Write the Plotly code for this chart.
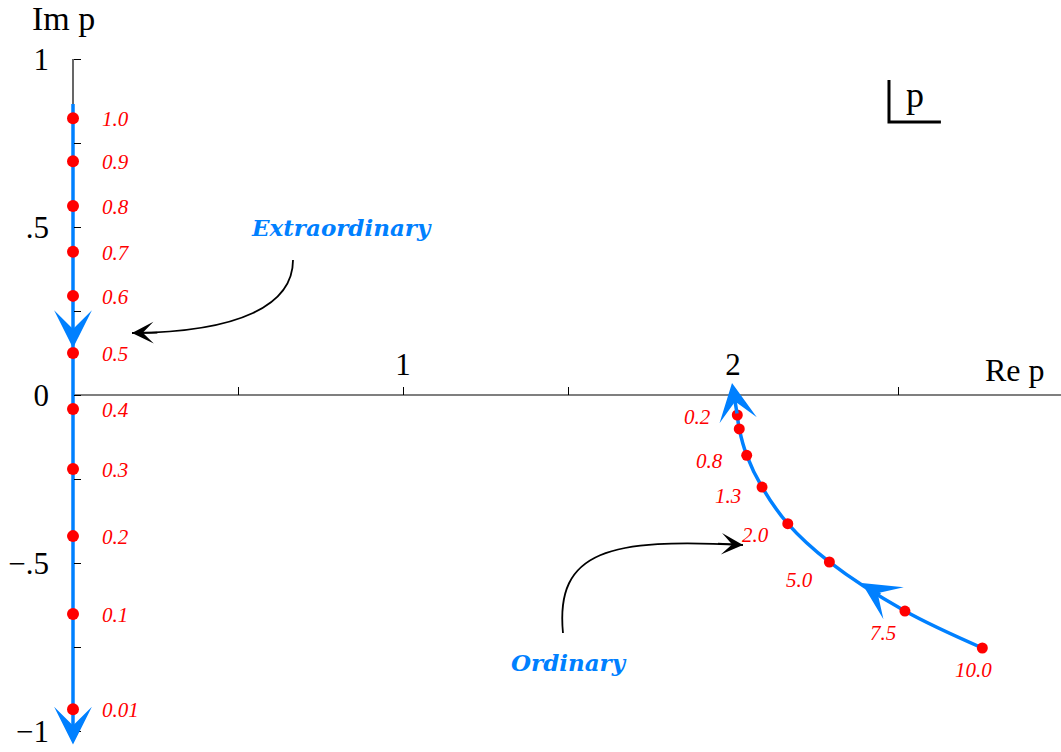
import plotly.graph_objects as go

# ---------------- data ----------------
# Extraordinary branch (on the imaginary axis)
ext_labels = ["1.0", "0.9", "0.8", "0.7", "0.6", "0.5", "0.4", "0.3", "0.2", "0.1", "0.01"]
ext_re = [0.0] * 11
ext_im = [0.824, 0.696, 0.5625, 0.426, 0.295, 0.125, -0.042, -0.220, -0.420, -0.652, -0.935]
ext_line_re = [0.0, 0.0]
ext_line_im = [0.866, -1.0]

# Ordinary branch
ord_labels = ["0.2", "", "0.8", "1.3", "2.0", "5.0", "7.5", "10.0"]
ord_re = [2.013, 2.019, 2.0415, 2.088, 2.166, 2.292, 2.521, 2.7555]
ord_im = [-0.0595, -0.101, -0.1795, -0.274, -0.383, -0.497, -0.643, -0.753]

# axis ticks
x_tickvals = [0.5, 1.0, 1.5, 2.0, 2.5]
x_ticktext = ["", "1", "", "2", ""]
y_tickvals = [-1.0, -0.75, -0.5, -0.25, 0.0, 0.25, 0.5, 0.75, 1.0]
y_ticktext = ["\u22121", "", "\u2212.5", "", "0", "", ".5", "", "1"]

# ---------------- style ----------------
BLUE = "rgb(0,128,255)"
RED = "rgb(255,0,0)"
SERIF = "Liberation Serif"
W, H = 1061, 752
X_RANGE = [-73 / 330, (W - 73) / 330]
Y_RANGE = [-(H - 395) / 336, 395 / 336]

fig = go.Figure()

# extraordinary line + dots
fig.add_trace(go.Scatter(x=ext_line_re, y=ext_line_im, mode="lines",
                         line=dict(color=BLUE, width=3.5), hoverinfo="skip"))
fig.add_trace(go.Scatter(x=ext_re, y=ext_im, mode="markers",
                         marker=dict(color=RED, size=12), hoverinfo="skip"))

# ordinary curve + dots
fig.add_trace(go.Scatter(x=ord_re[::-1], y=ord_im[::-1], mode="lines",
                         line=dict(color=BLUE, width=3.5, shape="spline", smoothing=1.0),
                         hoverinfo="skip"))
fig.add_trace(go.Scatter(x=ord_re, y=ord_im, mode="markers",
                         marker=dict(color=RED, size=11), hoverinfo="skip"))

annotations = []
label_font = dict(family=SERIF, size=21, color=RED, style="italic")
for lab, xr, yi in zip(ext_labels, ext_re, ext_im):
    annotations.append(dict(x=xr, y=yi, text=lab, showarrow=False, xanchor="left",
                            yanchor="middle", xshift=27, yshift=-1, font=label_font))

ord_offsets = [(-24, -2), (0, 0), (-22, -6), (-19, -9), (-17, -11), (-14, -18), (-7, -22), (-9, -22)]
for i, (lab, xr, yi) in enumerate(zip(ord_labels, ord_re, ord_im)):
    if not lab:
        continue
    dx, dy = ord_offsets[i]
    anchor = "center" if i == len(ord_labels) - 1 else "right"
    annotations.append(dict(x=xr, y=yi, text=lab, showarrow=False, xanchor=anchor,
                            yanchor="middle", xshift=dx, yshift=dy, font=label_font))

# blue arrowheads along the branches
def blue_arrow(tip, tail):
    return dict(x=tip[0], y=tip[1], ax=tail[0], ay=tail[1], xref="x", yref="y",
                axref="x", ayref="y", showarrow=True, arrowhead=3, arrowsize=1.8,
                arrowwidth=3.5, arrowcolor=BLUE, text="")

annotations.append(blue_arrow((0.0, 0.14), (0.0, 0.2)))
annotations.append(blue_arrow((0.0, -1.04), (0.0, -0.98)))
annotations.append(blue_arrow((1.997, 0.036), (ord_re[0], ord_im[0])))
annotations.append(blue_arrow((2.39, -0.5595), (2.45, -0.597)))

# black curved pointer arrows
def black_head(tip, tail):
    return dict(x=tip[0], y=tip[1], ax=tail[0], ay=tail[1], xref="x", yref="y",
                axref="x", ayref="y", showarrow=True, arrowhead=3, arrowsize=2.0,
                arrowwidth=1.8, arrowcolor="black", text="")

annotations.append(black_head((0.1788, 0.1845), (0.26, 0.186)))
annotations.append(black_head((2.0303, -0.4464), (1.95, -0.442)))

shapes = [
    dict(type="path", xref="x", yref="y",
         path="M 0.6667 0.4018 C 0.6667 0.268 0.506 0.1875 0.1788 0.1845",
         line=dict(color="black", width=1.8)),
    dict(type="path", xref="x", yref="y",
         path="M 1.4848 -0.7083 C 1.4606 -0.4613 1.6273 -0.4256 2.0303 -0.4464",
         line=dict(color="black", width=1.8)),
    # axis lines
    dict(type="line", xref="x", yref="y", x0=0, y0=0, x1=X_RANGE[1], y1=0,
         line=dict(color="black", width=1.2), layer="below"),
    dict(type="line", xref="x", yref="y", x0=0, y0=-1.0, x1=0, y1=1.0,
         line=dict(color="black", width=1.2), layer="below"),
    # label frame for "p"
    dict(type="path", xref="x", yref="y",
         path="M 2.4727 0.9375 L 2.4727 0.8125 L 2.630 0.8125",
         line=dict(color="black", width=3)),
]

annotations += [
    dict(x=-0.03, y=1.122, text="Im p", showarrow=False,
         font=dict(family=SERIF, size=34, color="black")),
    dict(x=2.855, y=0.0744, text="Re p", showarrow=False,
         font=dict(family=SERIF, size=32, color="black")),
    dict(x=2.5515, y=0.893, text="p", showarrow=False,
         font=dict(family=SERIF, size=36, color="black")),
    dict(x=0.815, y=0.5, text="<b><i>Extraordinary</i></b>", showarrow=False,
         font=dict(family="DejaVu Serif", size=23, color=BLUE)),
    dict(x=1.503, y=-0.795, text="<b><i>Ordinary</i></b>", showarrow=False,
         font=dict(family="DejaVu Serif", size=23, color=BLUE)),
]

fig.update_layout(
    width=W, height=H,
    margin=dict(l=0, r=0, t=0, b=0, autoexpand=False),
    plot_bgcolor="white", paper_bgcolor="white",
    showlegend=False, hovermode=False,
    shapes=shapes, annotations=annotations,
    xaxis=dict(range=X_RANGE, showgrid=False, zeroline=False, showline=False,
               automargin=False,
               anchor="free", position=(0 - Y_RANGE[0]) / (Y_RANGE[1] - Y_RANGE[0]),
               side="top", ticks="outside", ticklen=8, tickcolor="black", tickwidth=1.2,
               tickvals=x_tickvals, ticktext=x_ticktext,
               tickfont=dict(family=SERIF, size=31, color="black"), ticklabelstandoff=0),
    yaxis=dict(range=Y_RANGE, showgrid=False, zeroline=False, showline=False,
               automargin=False,
               anchor="free", position=(0 - X_RANGE[0]) / (X_RANGE[1] - X_RANGE[0]),
               side="left", ticks="inside", ticklen=7, tickcolor="black", tickwidth=1.2,
               tickvals=y_tickvals, ticktext=y_ticktext,
               tickfont=dict(family=SERIF, size=31, color="black"), ticklabelstandoff=24),
)

fig.write_html("out.html", config=dict(displayModeBar=False),
               post_script="document.body.style.margin='0';document.body.style.overflow='hidden';")
